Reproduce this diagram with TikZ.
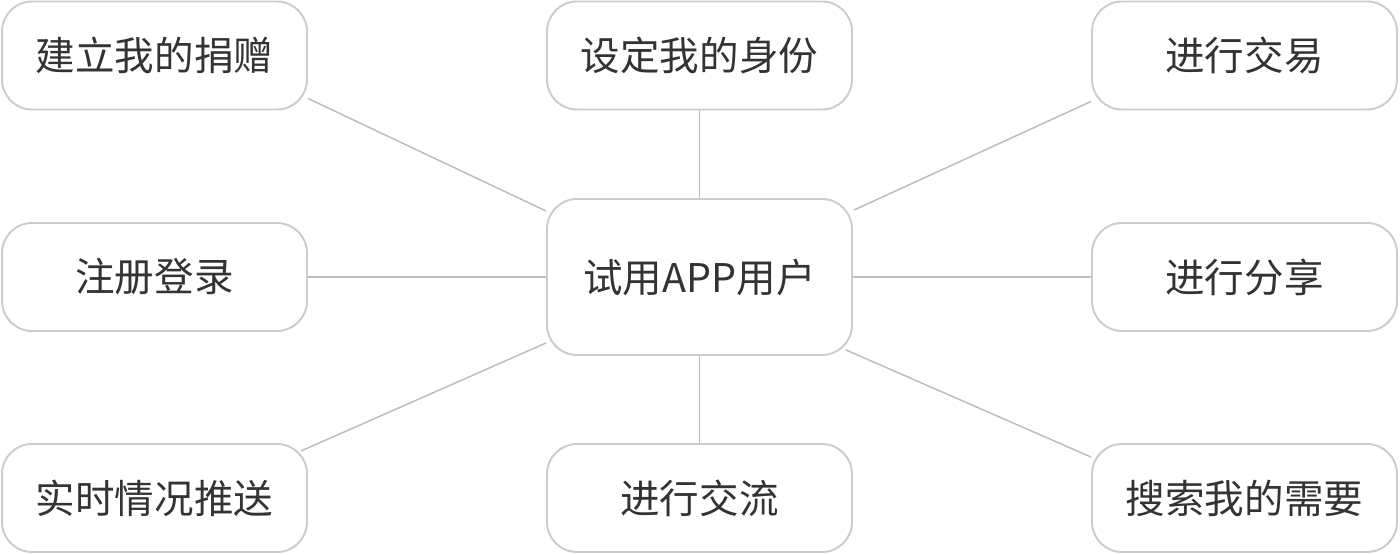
\documentclass[tikz,border=0pt]{standalone}
\usepackage{fontspec}
\setmainfont{Noto Sans CJK SC}
\usepackage{tikz}
\usetikzlibrary{positioning, calc}
\definecolor{boxline}{HTML}{CCCCCC}
\definecolor{linkline}{HTML}{BDBDBD}
\definecolor{textgray}{HTML}{333333}
\tikzset{
every node/.style={font=\fontsize{22.5}{26}\selectfont, text=textgray}, % text of all boxes
item/.style={draw=boxline, line width=1.1pt, rounded corners=0.6cm, fill=white, minimum width=6.1cm, minimum height=2.16cm, inner sep=0pt}, % the eight outer boxes
user/.style={item, minimum height=3.12cm}, % the box in the middle
link/.style={draw=linkline, line width=0.85pt}, % lines between boxes
}
\begin{document}
\begin{tikzpicture}
        %% fixes the size of the page
        \useasboundingbox (0,0) rectangle (28,11.08);
        %% middle box
        \node[user] (user) at (13.99,5.54) {试用APP用户};
        %% top row
        \node[item] (donate) at (3.09,9.97) {建立我的捐赠};
        \node[item] (identity) at (13.99,9.97) {设定我的身份};
        \node[item] (trade) at (24.89,9.97) {进行交易};
        %% middle row
        \node[item] (login) at (3.09,5.54) {注册登录};
        \node[item] (share) at (24.89,5.54) {进行分享};
        %% bottom row
        \node[item] (push) at (3.09,1.12) {实时情况推送};
        \node[item] (talk) at (13.99,1.12) {进行交流};
        \node[item] (search) at (24.89,1.12) {搜索我的需要};
        %% lines out of the middle box
        \draw[link] ($(donate.south east)+(0,0.24)$) -- ($(user.north west)+(0,-0.26)$);
        \draw[link] (identity.south) -- (user.north);
        \draw[link] ($(trade.south west)+(0,0.18)$) -- ($(user.north east)+(0.02,-0.24)$);
        \draw[link] (login.east) -- (user.west);
        \draw[link] (user.east) -- (share.west);
        \draw[link] ($(push.north east)+(-0.14,-0.16)$) -- ($(user.south west)+(0,0.26)$);
        \draw[link] (user.south) -- (talk.north);
        \draw[link] ($(user.south east)+(-0.14,0.12)$) -- ($(search.north west)+(0,-0.28)$);
\end{tikzpicture}
\end{document}
